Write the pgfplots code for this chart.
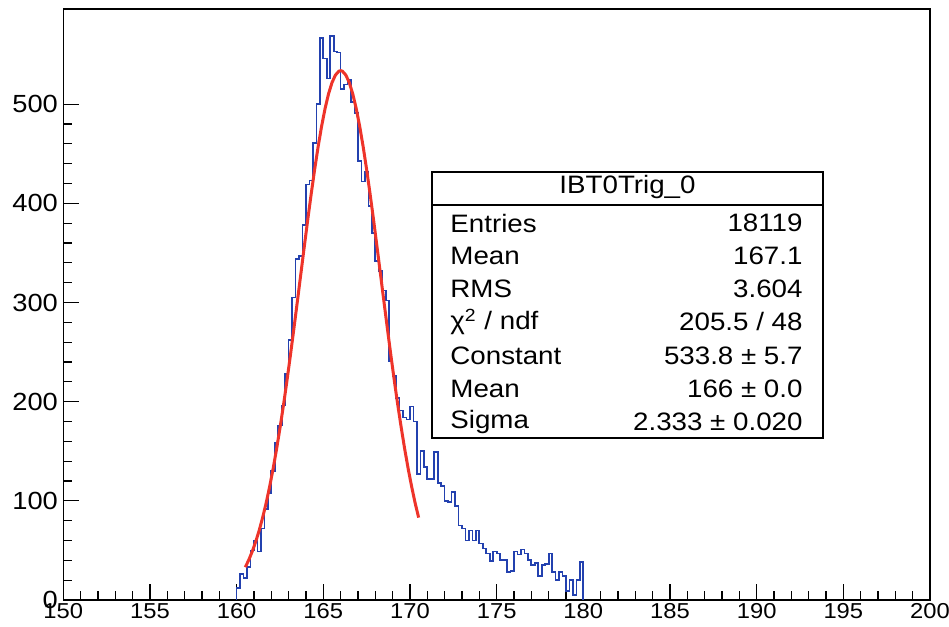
\documentclass[border=0pt]{standalone}
\usepackage{fontspec}
\setmainfont{Liberation Sans}[FakeStretch=1.1]
\usepackage{pgfplots}
\pgfplotsset{compat=1.18}
\usepackage{pgfplotstable}
\definecolor{histblue}{RGB}{35,65,175}
\definecolor{fitred}{RGB}{238,52,42}

\pgfplotstableread{
x y
160.0 0
160.0 12
160.2 26
160.4 22
160.6 33
160.8 50
161.0 60
161.2 49
161.4 72
161.6 92
161.8 108
162.0 130
162.2 158
162.4 176
162.6 196
162.8 228
163.0 262
163.2 305
163.4 344
163.6 347
163.8 378
164.0 419
164.2 423
164.4 461
164.6 500
164.8 567
165.0 546
165.2 526
165.4 569
165.6 553
165.8 552
166.0 515
166.2 520
166.4 525
166.6 502
166.8 491
167.0 443
167.2 422
167.4 432
167.6 397
167.8 370
168.0 342
168.2 332
168.4 312
168.6 302
168.8 241
169.0 226
169.2 204
169.4 191
169.6 184
169.8 182
170.0 195
170.2 180
170.4 127
170.6 150
170.8 134
171.0 122
171.2 122
171.4 149
171.6 118
171.8 115
172.0 100
172.2 99
172.4 109
172.6 95
172.8 75
173.0 72
173.2 60
173.4 70
173.6 60
173.8 70
174.0 57
174.2 52
174.4 47
174.6 39
174.8 49
175.0 47
175.2 40
175.4 40
175.6 28
175.8 29
176.0 49
176.2 46
176.4 51
176.6 47
176.8 40
177.0 35
177.2 37
177.4 24
177.6 35
177.8 36
178.0 47
178.2 28
178.4 20
178.6 28
178.8 24
179.0 9
179.2 20
179.4 5
179.6 20
179.8 38
180.0 38
180.0 0
}\hist

\pgfplotstableread{
x y
160.5 33.1
160.7 40.4
160.9 48.9
161.1 58.8
161.3 70.1
161.5 83.1
161.7 97.6
161.9 114.0
162.1 132.0
162.3 151.8
162.5 173.3
162.7 196.3
162.9 220.8
163.1 246.5
163.3 273.3
163.5 300.6
163.7 328.3
163.9 356.0
164.1 383.2
164.3 409.3
164.5 434.1
164.7 457.0
164.9 477.6
165.1 495.5
165.3 510.3
165.5 521.7
165.7 529.4
165.9 533.3
166.0 533.8
166.1 533.3
166.3 529.4
166.5 521.7
166.7 510.3
166.9 495.5
167.1 477.6
167.3 457.0
167.5 434.1
167.7 409.3
167.9 383.2
168.1 356.0
168.3 328.3
168.5 300.6
168.7 273.3
168.9 246.5
169.1 220.8
169.3 196.3
169.5 173.3
169.7 151.8
169.9 132.0
170.1 114.0
170.3 97.6
170.5 83.1
}\fit

\newcommand{\statfont}{\fontsize{12.6}{14}\selectfont}

\begin{document}
\begin{tikzpicture}
\useasboundingbox (-31.65pt,-13.5pt) rectangle (442.85pt,300pt);
\begin{axis}[
  at={(0,0)}, anchor=south west,
  scale only axis, width=433.35pt, height=295.5pt,
  xmin=150, xmax=200, ymin=0, ymax=596,
  xtick={150,155,...,200}, ytick={0,100,...,500},
  minor x tick num=4, minor y tick num=4,
  tick align=inside, xtick pos=left, ytick pos=left,
  major tick length=8pt, minor tick length=4.5pt,
  every tick/.style={black, line width=0.6pt},
  axis line style={line width=0.65pt},
  xticklabel style={font=\fontsize{10.8}{12}\selectfont, inner sep=1.5pt},
  yticklabel style={font=\fontsize{12.4}{14}\selectfont, inner sep=2.5pt},
  /pgf/number format/assume math mode=true,
  scaled ticks=false,
]
\addplot[const plot mark left, histblue, line width=0.85pt, mark=none] table[x=x,y=y] {\hist};
\addplot[fitred, line width=1.5pt, mark=none] table[x=x,y=y] {\fit};

\draw[line width=0.65pt, fill=white] (rel axis cs:0.4254,0.2741) rectangle (rel axis cs:0.8765,0.7242);
\draw[line width=0.65pt] (rel axis cs:0.4254,0.6684) -- (rel axis cs:0.8765,0.6684);
\node[font=\statfont, inner sep=0pt] at (rel axis cs:0.651,0.6988) {IBT0Trig\_0};
\begin{scope}[every node/.style={font=\statfont, inner sep=0pt}]
\node[anchor=west] at (rel axis cs:0.4462,0.6379) {Entries};
\node[anchor=east] at (rel axis cs:0.8534,0.6379) {18119};
\node[anchor=west] at (rel axis cs:0.4462,0.5821) {Mean};
\node[anchor=east] at (rel axis cs:0.8534,0.5821) {167.1};
\node[anchor=west] at (rel axis cs:0.4462,0.5262) {RMS};
\node[anchor=east] at (rel axis cs:0.8534,0.5262) {3.604};
\node[anchor=west] at (rel axis cs:0.4462,0.4704) {χ\textsuperscript{2} / ndf};
\node[anchor=east] at (rel axis cs:0.8534,0.4704) {205.5 / 48};
\node[anchor=west] at (rel axis cs:0.4462,0.4129) {Constant};
\node[anchor=east] at (rel axis cs:0.8534,0.4129) {533.8 ± 5.7};
\node[anchor=west] at (rel axis cs:0.4462,0.3570) {Mean};
\node[anchor=east] at (rel axis cs:0.8534,0.3570) {166 ± 0.0};
\node[anchor=west] at (rel axis cs:0.4462,0.3012) {Sigma};
\node[anchor=east] at (rel axis cs:0.8534,0.3012) {2.333 ± 0.020};
\end{scope}
\end{axis}
\end{tikzpicture}
\end{document}
